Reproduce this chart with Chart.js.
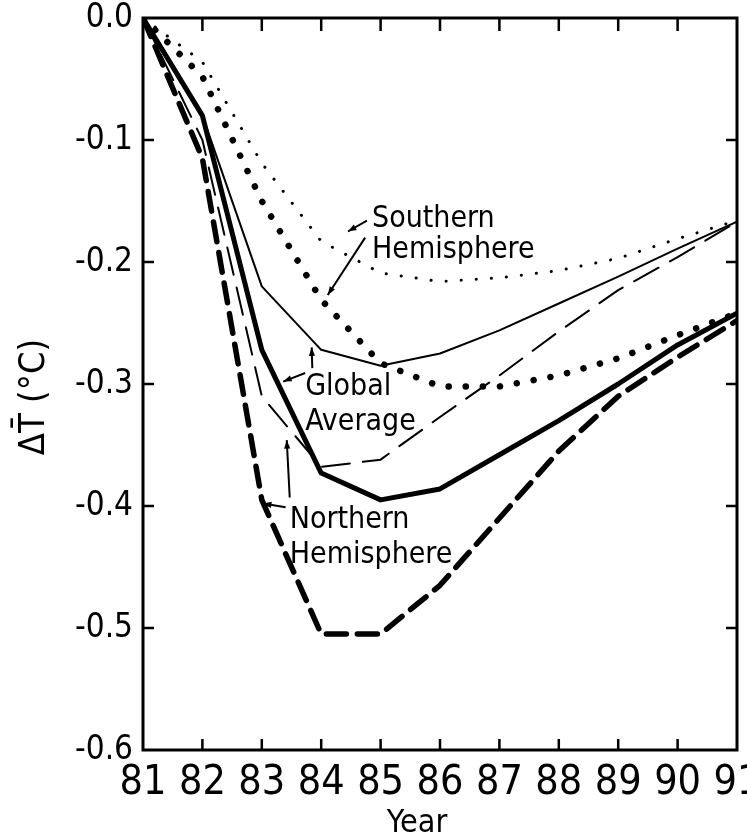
<!DOCTYPE html>
<html>
<head>
<meta charset="utf-8">
<script src="https://cdn.jsdelivr.net/npm/chart.js@4.4.0/dist/chart.umd.min.js"></script>
<style>
  html, body { margin: 0; padding: 0; background: #fff; }
</style>
</head>
<body>
<canvas id="chart" width="747" height="834"></canvas>
<script>
// years after 1900
const years = [81, 82, 83, 84, 85, 86, 87, 88, 89, 90, 91];

// global average (thin solid = case A, thick solid = case B)
const globalThin  = [0, -0.080, -0.220, -0.272, -0.285, -0.275, -0.256, -0.234, -0.212, -0.189, -0.167];
const globalThick = [0, -0.080, -0.272, -0.373, -0.395, -0.386, -0.358, -0.330, -0.300, -0.268, -0.242];

// northern hemisphere (dashed)
const northThin  = [0, -0.100, -0.310, -0.368, -0.362, -0.327, -0.293, -0.257, -0.223, -0.196, -0.167];
const northThick = [0, -0.115, -0.395, -0.505, -0.505, -0.465, -0.410, -0.355, -0.310, -0.278, -0.248];

// southern hemisphere (dotted)
const southThin  = [0, -0.036, -0.119, -0.183, -0.209, -0.216, -0.213, -0.207, -0.197, -0.181, -0.166];
const southThick = [0, -0.048, -0.150, -0.231, -0.283, -0.302, -0.302, -0.293, -0.279, -0.260, -0.242];

const yTicks = [0, -0.1, -0.2, -0.3, -0.4, -0.5, -0.6];

// label blocks and arrows, in data units
const labels = [
  { lines: ['Southern', 'Hemisphere'], x: 84.855, y: [-0.171, -0.197] },
  { lines: ['Global', 'Average'], x: 83.73, y: [-0.309, -0.338] },
  { lines: ['Northern', 'Hemisphere'], x: 83.47, y: [-0.418, -0.447] },
];
const arrows = [
  [84.77, -0.166, 84.45, -0.175],
  [84.74, -0.180, 84.11, -0.227],
  [83.85, -0.287, 83.84, -0.270],
  [83.73, -0.291, 83.36, -0.298],
  [83.47, -0.393, 83.42, -0.346],
  [83.40, -0.401, 83.02, -0.398],
];

const FONT = '"DejaVu Sans Condensed", "Liberation Sans Narrow", "DejaVu Sans", sans-serif';

const pts = arr => years.map((yr, i) => ({ x: yr, y: arr[i] }));

const line = (data, width, dash) => ({
  data: pts(data),
  borderColor: '#000',
  borderWidth: width,
  borderDash: dash,
  borderCapStyle: dash.length ? 'round' : 'butt',
  borderJoinStyle: 'round',
  pointRadius: 0,
  tension: 0,
  fill: false,
});

const drawExtras = {
  id: 'drawExtras',
  afterDraw(chart) {
    const { ctx, chartArea: a, scales: { x, y } } = chart;
    ctx.save();
    ctx.strokeStyle = '#000';
    ctx.fillStyle = '#000';

    // frame
    ctx.lineWidth = 3;
    ctx.strokeRect(a.left, a.top, a.right - a.left, a.bottom - a.top);

    // inward ticks on all four sides
    ctx.lineWidth = 2.5;
    ctx.beginPath();
    years.slice(1, -1).forEach(v => {
      const px = x.getPixelForValue(v);
      ctx.moveTo(px, a.bottom); ctx.lineTo(px, a.bottom - 11);
      ctx.moveTo(px, a.top); ctx.lineTo(px, a.top + 13);
    });
    yTicks.slice(1, -1).forEach(v => {
      const py = y.getPixelForValue(v);
      ctx.moveTo(a.left, py); ctx.lineTo(a.left + 11, py);
      ctx.moveTo(a.right, py); ctx.lineTo(a.right - 11, py);
    });
    ctx.stroke();

    // annotation text
    ctx.font = '30px ' + FONT;
    ctx.textBaseline = 'alphabetic';
    ctx.textAlign = 'left';
    labels.forEach(l => {
      l.lines.forEach((t, i) => {
        ctx.fillText(t, x.getPixelForValue(l.x), y.getPixelForValue(l.y[i]));
      });
    });

    // arrows
    ctx.lineWidth = 2;
    arrows.forEach(([x1, y1, x2, y2]) => {
      const ax = x.getPixelForValue(x1), ay = y.getPixelForValue(y1);
      const bx = x.getPixelForValue(x2), by = y.getPixelForValue(y2);
      ctx.beginPath();
      ctx.moveTo(ax, ay); ctx.lineTo(bx, by);
      ctx.stroke();
      const ang = Math.atan2(by - ay, bx - ax);
      ctx.beginPath();
      ctx.moveTo(bx, by);
      ctx.lineTo(bx - 9 * Math.cos(ang - 0.35), by - 9 * Math.sin(ang - 0.35));
      ctx.lineTo(bx - 9 * Math.cos(ang + 0.35), by - 9 * Math.sin(ang + 0.35));
      ctx.closePath();
      ctx.fill();
    });

    // axis titles
    ctx.font = '32px ' + FONT;
    ctx.textAlign = 'center';
    ctx.fillText('Year', 417, 832);

    ctx.save();
    ctx.translate(44, 397);
    ctx.rotate(-Math.PI / 2);
    ctx.font = '36px ' + FONT;
    ctx.fillText('\u0394T\u0304 (\u00b0C)', 0, 0);
    ctx.restore();

    ctx.restore();
  }
};

new Chart(document.getElementById('chart'), {
  type: 'line',
  data: {
    datasets: [
      line(southThin, 3, [0.1, 15]),
      line(southThick, 6.5, [0.1, 17]),
      line(globalThin, 2, []),
      line(globalThick, 5, []),
      line(northThin, 2, [28, 13]),
      line(northThick, 5.5, [20, 11]),
    ]
  },
  options: {
    responsive: false,
    animation: false,
    layout: { autoPadding: false, padding: { top: 18, right: 10, left: 0, bottom: 0 } },
    plugins: { legend: { display: false }, tooltip: { enabled: false } },
    scales: {
      x: {
        type: 'linear',
        min: 81,
        max: 91,
        grid: { display: false, drawTicks: false },
        border: { display: false },
        afterFit: s => { s.height = 84; s.paddingLeft = 0; s.paddingRight = 0; },
        ticks: {
          stepSize: 1,
          padding: 9,
          color: '#000',
          font: { family: FONT, size: 41 },
          callback: v => String(v),
        },
      },
      y: {
        min: -0.6,
        max: 0,
        grid: { display: false, drawTicks: false },
        border: { display: false },
        afterFit: s => { s.width = 143; s.paddingTop = 0; s.paddingBottom = 0; },
        ticks: {
          stepSize: 0.1,
          padding: 10,
          color: '#000',
          font: { family: FONT, size: 33 },
          callback: v => (Math.abs(v) < 1e-9 ? '0.0' : v.toFixed(1)),
        },
      },
    },
  },
  plugins: [drawExtras],
});
</script>
</body>
</html>
